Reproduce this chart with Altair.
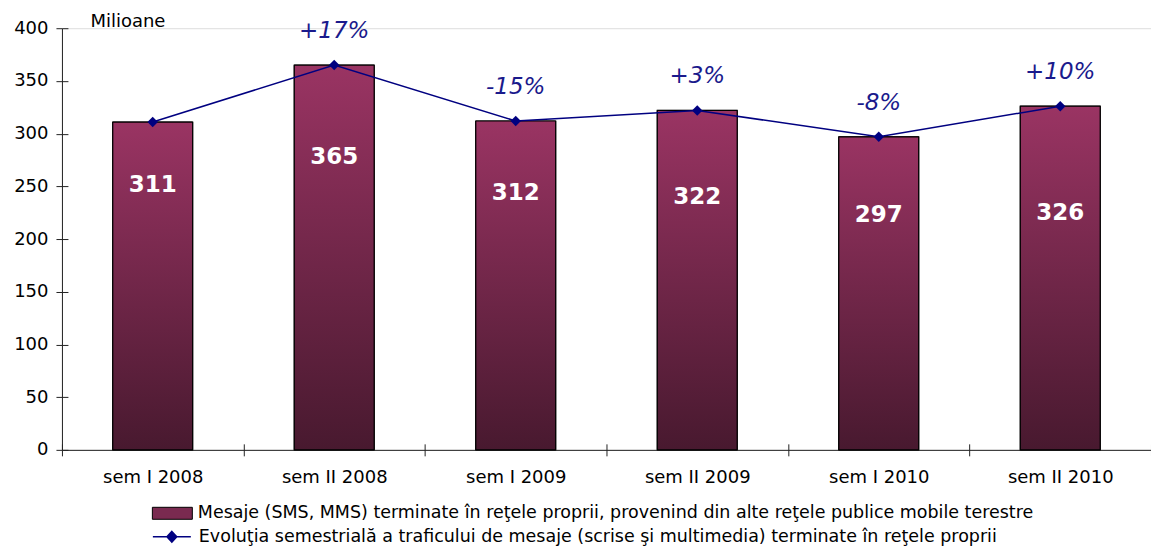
import altair as alt
import pandas as pd

categories = ["sem I 2008", "sem II 2008", "sem I 2009", "sem II 2009", "sem I 2010", "sem II 2010"]
values = [311, 365, 312, 322, 297, 326]
changes = ["", "+17%", "-15%", "+3%", "-8%", "+10%"]
label_heights = [251, 278, 244, 240, 223, 225]
y_ticks = [0, 50, 100, 150, 200, 250, 300, 350, 400]

bar_name = "Mesaje (SMS, MMS) terminate în reţele proprii, provenind din alte reţele publice mobile terestre"
line_name = "Evoluţia semestrială a traficului de mesaje (scrise şi multimedia) terminate în reţele proprii"

df = pd.DataFrame({
    "cat": categories,
    "val": values,
    "chg": changes,
    "lab": label_heights,
    "bar_series": [bar_name] * len(categories),
    "line_series": [line_name] * len(categories),
})

FONT = "DejaVu Sans"
AX = "#222222"
NAVY = "#000080"

xscale = alt.Scale(paddingInner=0, paddingOuter=0)
yscale = alt.Scale(domain=[0, 400], nice=False, zero=True)

x_main = alt.X("cat:N", sort=categories, scale=xscale,
               axis=alt.Axis(title=None, labelAngle=0, orient="bottom", tickBand="extent",
                             tickSize=6, tickColor=AX, domainColor=AX, labelFontSize=18,
                             labelFont=FONT, labelColor="#000", labelPadding=13, grid=False))
y_main = alt.Y("val:Q", scale=yscale,
               axis=alt.Axis(values=y_ticks, orient="left", tickSize=6, tickColor=AX, domainColor=AX,
                             labelFontSize=18, labelFont=FONT, labelColor="#000", labelPadding=8,
                             grid=False, title="Milioane", titleAngle=0, titleX=28, titleY=-7,
                             titleAlign="left", titleBaseline="middle", titleFontSize=18,
                             titleFontWeight="normal", titleFont=FONT, titleColor="#000"))

x_none = alt.X("cat:N", sort=categories, scale=xscale, axis=None)
y_none = alt.Y("val:Q", scale=yscale, axis=None)

bar_legend = alt.Legend(title=None, orient="none", legendX=90, legendY=465,
                        symbolType="M-1,-0.3H1V0.3H-1Z", symbolSize=1600,
                        symbolStrokeColor="#000", symbolStrokeWidth=1,
                        labelFontSize=17.5, labelFont=FONT, labelColor="#000",
                        labelLimit=1200, labelOffset=5, padding=0)

diamond = ("M-1,0L1,0"
           "M0,-0.28L0.26,0L0,0.28L-0.26,0Z"
           "M0,-0.2L0.18,0L0,0.2L-0.18,0Z"
           "M0,-0.12L0.1,0L0,0.12L-0.1,0Z"
           "M0,-0.04L0.03,0L0,0.04L-0.03,0Z")
line_legend = alt.Legend(title=None, orient="none", legendX=90, legendY=489,
                         symbolType=diamond, symbolSize=1444, symbolStrokeWidth=1.5,
                         symbolFillColor=NAVY,
                         labelFontSize=17.5, labelFont=FONT, labelColor="#000",
                         labelLimit=1200, labelOffset=7, padding=0)

base = alt.Chart(df)

bars_solid = base.mark_bar(size=80, stroke="#000", strokeWidth=1).encode(
    x=x_main, y=y_main,
    fill=alt.Fill("bar_series:N", scale=alt.Scale(range=["#7a2a50"]), legend=bar_legend),
)

gradient = alt.Gradient(
    gradient="linear",
    stops=[alt.GradientStop(color="#48192f", offset=0),
           alt.GradientStop(color="#9a3463", offset=1)],
    x1=0, x2=0, y1=1, y2=0,
)
bars_grad = base.mark_bar(size=80, stroke="#000", strokeWidth=1.2, fill=gradient).encode(
    x=x_none, y=y_none,
)

line = base.mark_line(strokeWidth=1.5).encode(
    x=x_none, y=y_none,
    stroke=alt.Stroke("line_series:N", scale=alt.Scale(range=[NAVY]), legend=line_legend),
)

# inward halves of the crossing ticks
points = base.mark_point(shape="diamond", filled=True, size=110, color=NAVY, opacity=1).encode(
    x=alt.X("cat:N", sort=categories, scale=xscale,
            axis=alt.Axis(title=None, orient="bottom", offset=-6, tickBand="extent", tickSize=6,
                          tickColor=AX, labels=False, domain=False, grid=False)),
    y=alt.Y("val:Q", scale=yscale,
            axis=alt.Axis(values=y_ticks, orient="left", offset=-6, tickSize=6, tickColor=AX,
                          labels=False, domain=False, grid=False, title=None)),
)

val_text = base.mark_text(color="white", fontWeight="bold", fontSize=23, font=FONT,
                          baseline="middle").encode(
    x=x_none,
    y=alt.Y("lab:Q", scale=yscale, axis=None),
    text=alt.Text("val:Q"),
)

pct_text = base.mark_text(color="#1a1a8c", fontStyle="italic", fontSize=23, font=FONT,
                          baseline="middle", dy=-34).encode(
    x=x_none, y=y_none, text="chg:N",
)

chart = alt.layer(bars_solid, bars_grad, line, points, val_text, pct_text).resolve_axis(
    x="independent", y="independent"
).properties(
    width=1090, height=422,
    autosize=alt.AutoSizeParams(type="none"),
    padding={"left": 54, "top": 20, "right": 0, "bottom": 97},
).configure_view(stroke=None).configure(font=FONT)

chart.save("out.html", embed_options={"renderer": "svg", "actions": False})
